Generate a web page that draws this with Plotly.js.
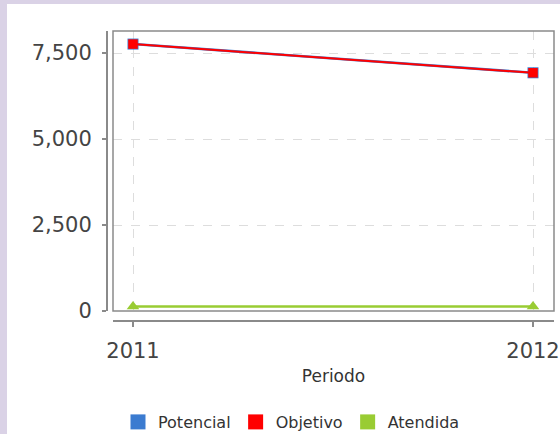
<!DOCTYPE html>
<html>
<head>
<meta charset="utf-8">
<script src="https://cdn.plot.ly/plotly-3.0.1.min.js"></script>
<style>
  html, body { margin: 0; padding: 0; background: #dad2e6; width: 560px; height: 434px; overflow: hidden; }
  #chart { position: absolute; left: 7px; top: 4px; width: 553px; height: 430px; background: #ffffff; }
</style>
</head>
<body>
<div id="chart"></div>
<script>
const periods = [2011, 2012];
const potencial = [7760, 6925];
const objetivo = [7760, 6925];
const atendida = [130, 130];
const seriesNames = ['Potencial', 'Objetivo', 'Atendida'];
const seriesColors = ['#3b7bd0', '#ff0000', '#99cc33'];
const yTicks = [0, 2500, 5000, 7500];

const traces = [
  {x: periods, y: potencial, name: seriesNames[0], mode: 'lines+markers', showlegend: false,
   line: {color: seriesColors[0], width: 2.6}, marker: {symbol: 'square', size: 11, color: seriesColors[0]}},
  {x: periods, y: objetivo, name: seriesNames[1], mode: 'lines+markers', showlegend: false,
   line: {color: seriesColors[1], width: 2}, marker: {symbol: 'square', size: 9.5, color: seriesColors[1]}},
  {x: periods, y: atendida, name: seriesNames[2], mode: 'lines+markers', showlegend: false,
   line: {color: seriesColors[2], width: 2.5}, marker: {symbol: 'triangle-up', size: 11, color: seriesColors[2]}}
];
seriesNames.forEach((n, i) => {
  traces.push({x: [null], y: [null], name: n, mode: 'markers', showlegend: true, hoverinfo: 'skip',
    marker: {symbol: 'square', size: 15, color: seriesColors[i]}});
});

const layout = {
  width: 553, height: 430,
  paper_bgcolor: '#ffffff', plot_bgcolor: '#ffffff',
  margin: {l: 99, r: 6, t: 27, b: 114, pad: 0},
  font: {family: 'DejaVu Sans', color: '#444'},
  showlegend: true,
  xaxis: {
    domain: [7/448, 1], anchor: 'free', position: 0,
    range: [2010.95, 2012.0525],
    tickvals: periods, ticktext: periods.map(String),
    showline: true, linecolor: '#8a8a8a', linewidth: 1.5,
    ticks: 'outside', ticklen: 5, tickcolor: '#8a8a8a', tickwidth: 1.5,
    tickfont: {size: 21, color: '#444'}, ticklabelstandoff: 6,
    showgrid: true, gridcolor: '#dddddd', griddash: 'dash', gridwidth: 1,
    zeroline: false,
    title: {text: 'Periodo', font: {size: 17, color: '#333'}, standoff: 8}
  },
  yaxis: {
    domain: [9/289, 1], anchor: 'free', position: 0,
    range: [0, 8140],
    tickvals: yTicks, tickformat: ',d',
    showline: true, linecolor: '#8a8a8a', linewidth: 1.5,
    ticks: 'outside', ticklen: 4, tickcolor: '#8a8a8a', tickwidth: 1.5,
    tickfont: {size: 21, color: '#444'}, ticklabelstandoff: 6,
    showgrid: true, gridcolor: '#dddddd', griddash: 'dash', gridwidth: 1,
    zeroline: false
  },
  shapes: [
    {type: 'rect', xref: 'x domain', yref: 'y domain', x0: 0, x1: 1, y0: 0, y1: 1,
     line: {color: '#8a8a8a', width: 1.5}, layer: 'above'}
  ],
  legend: {
    orientation: 'h', xref: 'container', yref: 'container',
    x: 284.5/553, xanchor: 'center', y: 1 - 418/430, yanchor: 'middle',
    font: {size: 16, color: '#333', family: 'DejaVu Sans'},
    bgcolor: 'rgba(0,0,0,0)', itemwidth: 30
  }
};

Plotly.newPlot('chart', traces, layout, {displayModeBar: false, staticPlot: true});
</script>
</body>
</html>
